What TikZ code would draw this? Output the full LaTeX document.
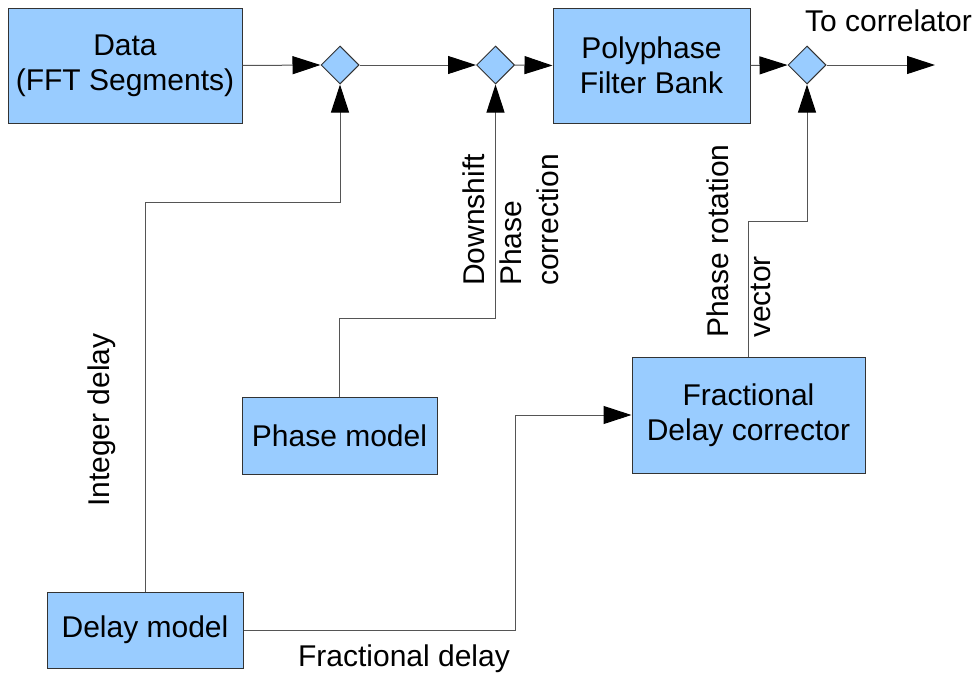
\documentclass[tikz,border=0pt]{standalone}
\usepackage{fontspec}
\setmainfont{Liberation Sans}
\usetikzlibrary{arrows.meta,shapes.geometric}
\definecolor{boxblue}{HTML}{99CCFF}
\definecolor{edgegray}{HTML}{333333}
\definecolor{linegray}{HTML}{555555}
\begin{document}
\begin{tikzpicture}[x=1pt,y=-1pt,
  box/.style={draw=edgegray, fill=boxblue, line width=1pt, inner sep=0pt, align=center, font=\fontsize{30}{35}\selectfont},
  junc/.style={diamond, draw=edgegray, fill=boxblue, line width=1pt, inner sep=0pt, minimum width=38pt, minimum height=38pt},
  conn/.style={draw=linegray, line width=1pt},
  arr/.style={conn, -{Triangle[length=28pt,width=18pt,color=black,fill=black]}},
  lbl/.style={font=\fontsize{30}{35}\selectfont, inner sep=0pt}
]
\useasboundingbox (0,0) rectangle (976,675);
\node[box, minimum width=234pt, minimum height=115pt] (data) at (125,65.5) {Data\\(FFT Segments)};
\node[box, minimum width=197pt, minimum height=115pt] (pfb) at (651.5,65.5) {Polyphase\\Filter Bank};
\node[box, minimum width=195pt, minimum height=77pt] (phase) at (339.5,435.5) {Phase model};
\node[box, minimum width=233pt, minimum height=116pt] (frac) at (748.5,415) {Fractional\\Delay corrector};
\node[box, minimum width=196pt, minimum height=76pt] (delay) at (145,630) {Delay model};
\node[junc] (j1) at (340,65) {};
\node[junc] (j2) at (495.5,65) {};
\node[junc] (j3) at (807,65) {};
\coordinate (out) at (935,65);
\coordinate (k1) at (145,202);
\coordinate (k2) at (339.5,318);
\coordinate (k3) at (748.5,221);
\coordinate (k4) at (515,630);
\draw[arr] (data.east) -- (j1.west);
\draw[arr] (j1.east) -- (j2.west);
\draw[arr] (j2.east) -- (pfb.west);
\draw[arr] (pfb.east) -- (j3.west);
\draw[arr] (j3.east) -- (out);
\draw[arr] (delay.north) -- (k1) -| (j1.south);
\draw[arr] (phase.north) -- (k2) -| (j2.south);
\draw[arr] (frac.north) -- (k3) -| (j3.south);
\draw[arr] (delay.east) -- (k4) |- (frac.west);
\node[lbl, rotate=90, anchor=base] (lint) at (109,420) {Integer delay};
\node[lbl, anchor=base] (lfrac) at (404,666) {Fractional delay};
\node[lbl, anchor=base west] (lcorr) at (805,31) {To correlator};
\node[lbl, rotate=90, align=left, anchor=north west, font=\fontsize{30}{37}\selectfont] (ldown) at (463,286) {Downshift\\Phase\\correction};
\node[lbl, rotate=90, align=left, anchor=north west, font=\fontsize{30}{42}\selectfont] (lrot) at (707,338) {Phase rotation\\vector};
\end{tikzpicture}
\end{document}
